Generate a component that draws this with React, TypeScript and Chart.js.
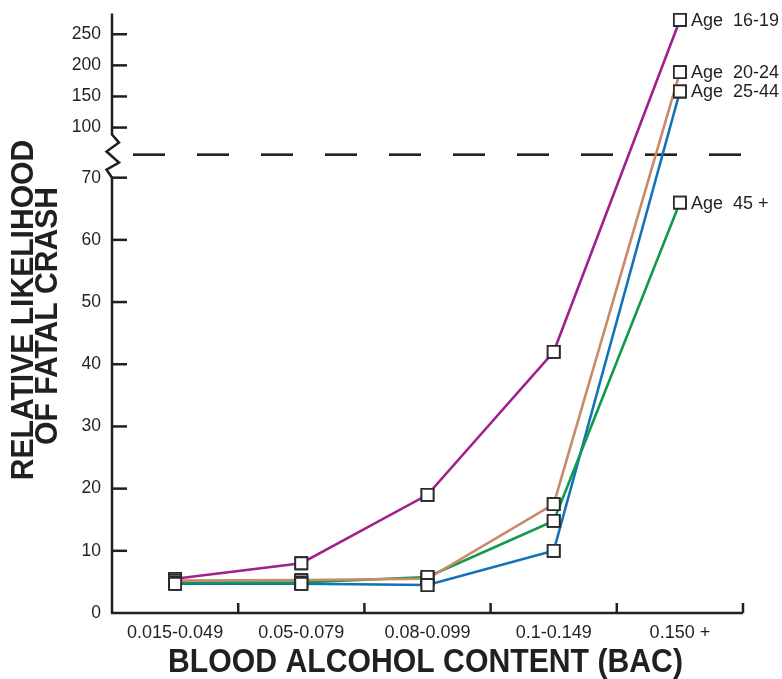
import React, { useEffect, useRef } from "react";
import { Chart, registerables } from "chart.js";

Chart.register(...registerables);

const categories = ["0.015-0.049", "0.05-0.079", "0.08-0.099", "0.1-0.149", "0.150 +"];
const age1619 = [5.5, 8, 19, 42, 273];
const age2024 = [5.2, 5.3, 5.5, 17.5, 189];
const age2544 = [4.7, 4.7, 4.5, 10, 158];
const age45 = [4.9, 4.9, 5.8, 14.8, 66];
const seriesLabels = ["Age  16-19", "Age  20-24", "Age  25-44", "Age  45 +"];
const lowerTicks = [0, 10, 20, 30, 40, 50, 60, 70];
const upperTicks = [100, 150, 200, 250];

// broken axis: values above the break are compressed
const BREAK_LOW = 70;
const BREAK_BASE = 78.06;
const UPPER_SCALE = 0.1;
const AXIS_MAX = 96.4;
const DASH_LEVEL = 73.7;

const toAxis = (v: number) => (v <= BREAK_LOW ? v : BREAK_BASE + (v - 100) * UPPER_SCALE);
const allTicks = [...lowerTicks, ...upperTicks];

const INK = "#231F20";
const FONT = "'Liberation Sans', Arial, sans-serif";

const decorPlugin = {
  id: "decor",
  beforeDatasetsDraw(chart: any) {
    const { ctx, chartArea, scales } = chart;
    const y = scales.y;
    const x = scales.x;
    ctx.save();
    ctx.strokeStyle = INK;
    ctx.lineWidth = 2.5;
    // y axis with break
    const x0 = chartArea.left;
    const y100 = y.getPixelForValue(toAxis(100));
    const y70 = y.getPixelForValue(70);
    ctx.beginPath();
    ctx.moveTo(x0, chartArea.top);
    ctx.lineTo(x0, y100 + 7);
    ctx.lineTo(x0 + 7, y100 + 15);
    ctx.lineTo(x0 - 5.5, y100 + 24);
    ctx.lineTo(x0 + 7, y100 + 35);
    ctx.lineTo(x0 - 5.5, y100 + 42);
    ctx.lineTo(x0, y70);
    ctx.lineTo(x0, chartArea.bottom + 1);
    ctx.stroke();
    // y ticks (inside)
    allTicks.forEach((t) => {
      if (t === 0) return;
      const py = y.getPixelForValue(toAxis(t));
      ctx.beginPath();
      ctx.moveTo(x0, py);
      ctx.lineTo(x0 + 15, py);
      ctx.stroke();
    });
    // x axis
    const yb = chartArea.bottom;
    ctx.beginPath();
    ctx.moveTo(x0 - 1, yb);
    ctx.lineTo(chartArea.right, yb);
    ctx.stroke();
    const half = (x.getPixelForValue(1) - x.getPixelForValue(0)) / 2;
    categories.forEach((_, i) => {
      const px = x.getPixelForValue(i) + half;
      ctx.beginPath();
      ctx.moveTo(px, yb);
      ctx.lineTo(px, yb - 10);
      ctx.stroke();
    });
    // dashed break line
    const dy = y.getPixelForValue(DASH_LEVEL);
    ctx.setLineDash([32, 32]);
    ctx.lineWidth = 2.6;
    ctx.beginPath();
    ctx.moveTo(x0 + 21, dy);
    ctx.lineTo(chartArea.right, dy);
    ctx.stroke();
    ctx.setLineDash([]);
    ctx.restore();
  },
  afterDatasetsDraw(chart: any) {
    const { ctx, chartArea } = chart;
    // markers on top of all lines
    chart.data.datasets.forEach((_: any, i: number) => {
      const meta = chart.getDatasetMeta(i);
      meta.data.forEach((p: any) => p.draw(ctx, chartArea));
    });
    ctx.save();
    ctx.fillStyle = INK;
    ctx.font = `18px ${FONT}`;
    ctx.textBaseline = "middle";
    ctx.textAlign = "left";
    chart.data.datasets.forEach((ds: any, i: number) => {
      const meta = chart.getDatasetMeta(i);
      const last = meta.data[meta.data.length - 1];
      ctx.fillText(ds.label, last.x + 11, last.y + 1);
    });
    // axis titles
    ctx.save();
    ctx.font = `bold 33px ${FONT}`;
    ctx.textAlign = "center";
    ctx.textBaseline = "alphabetic";
    ctx.translate(425.5, 672);
    ctx.scale(0.915, 1);
    ctx.fillText("BLOOD ALCOHOL CONTENT (BAC)", 0, 0);
    ctx.restore();
    ctx.save();
    ctx.font = `bold 32px ${FONT}`;
    ctx.textAlign = "center";
    ctx.textBaseline = "alphabetic";
    ctx.translate(33, 310);
    ctx.rotate(-Math.PI / 2);
    ctx.scale(0.94, 1);
    ctx.fillText("RELATIVE LIKELIHOOD", 0, 0);
    ctx.restore();
    ctx.save();
    ctx.font = `bold 32px ${FONT}`;
    ctx.textAlign = "center";
    ctx.textBaseline = "alphabetic";
    ctx.translate(57, 316);
    ctx.rotate(-Math.PI / 2);
    ctx.scale(0.94, 1);
    ctx.fillText("OF FATAL CRASH", 0, 0);
    ctx.restore();
    ctx.restore();
  },
};

function makeDs(label: string, values: number[], color: string) {
  return {
    label,
    data: values.map(toAxis),
    borderColor: color,
    backgroundColor: "#ffffff",
    borderWidth: 2.6,
    pointStyle: "rect",
    pointRadius: 8.5,
    pointBorderWidth: 1.8,
    pointBorderColor: "#2b2b2b",
    pointBackgroundColor: "#ffffff",
    tension: 0,
    clip: false,
  };
}

export default function App() {
  const ref = useRef<HTMLCanvasElement>(null);
  useEffect(() => {
    document.body.style.margin = "0";
    const chart = new Chart(ref.current as HTMLCanvasElement, {
      type: "line",
      data: {
        labels: categories,
        datasets: [
          makeDs(seriesLabels[0], age1619, "#A0218C"),
          makeDs(seriesLabels[1], age2024, "#C98A6B"),
          makeDs(seriesLabels[3], age45, "#129A4B"),
          makeDs(seriesLabels[2], age2544, "#1272B8"),
        ] as any,
      },
      options: {
        animation: false,
        responsive: false,
        layout: { padding: { left: 0, top: 9.5, right: 39, bottom: 0 } },
        plugins: { legend: { display: false }, tooltip: { enabled: false } },
        scales: {
          x: {
            type: "category",
            offset: true,
            grid: { display: false },
            border: { display: false },
            ticks: { font: { size: 18, family: FONT }, color: INK, padding: 1, maxRotation: 0, autoSkip: false },
            afterFit: (s: any) => {
              s.height = 66;
            },
          },
          y: {
            type: "linear",
            min: 0,
            max: AXIS_MAX,
            grid: { display: false },
            border: { display: false },
            afterBuildTicks: (s: any) => {
              s.ticks = allTicks.map((v) => ({ value: toAxis(v) }));
            },
            ticks: {
              autoSkip: false,
              font: { size: 17.5, family: FONT },
              color: INK,
              padding: 3,
              callback: (_v: any, i: number) => String(allTicks[i]),
            },
            afterFit: (s: any) => {
              s.width = 112;
            },
          },
        },
      },
      plugins: [decorPlugin],
    });
    return () => chart.destroy();
  }, []);
  return (
    <div style={{ width: 782, height: 679 }}>
      <canvas ref={ref} width={782} height={679} style={{ display: "block" }} />
    </div>
  );
}
